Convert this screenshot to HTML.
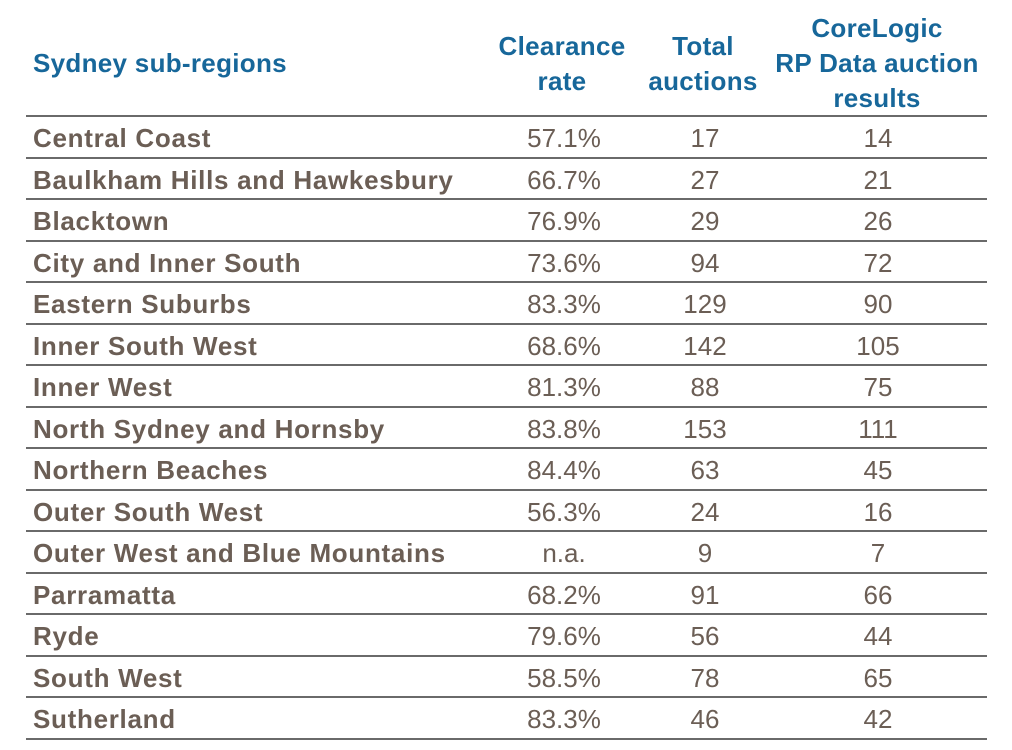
<!DOCTYPE html>
<html><head><meta charset="utf-8"><style>
body{margin:0;width:1012px;height:750px;background:#fff;position:relative;overflow:hidden;font-family:"Liberation Sans",Arial,sans-serif}
.h{position:absolute;color:#17679a;font-weight:bold;font-size:26px;letter-spacing:0.3px;line-height:35px;text-align:center;white-space:nowrap}
.line{position:absolute;left:26px;width:961px;height:2px;background:#6a6a6a}
.c{position:absolute;font-size:26px;color:#6b5e55;line-height:30px;white-space:nowrap}
.n{font-weight:bold;left:33px;letter-spacing:0.7px}
.v{text-align:center;width:160px}
</style></head><body>
<div class="h" style="left:33px;top:46px;text-align:left">Sydney sub-regions</div>
<div class="h" style="left:482px;width:160px;top:29px">Clearance<br>rate</div>
<div class="h" style="left:623px;width:160px;top:29px">Total<br>auctions</div>
<div class="h" style="left:757px;width:240px;top:11px">CoreLogic<br>RP Data auction<br>results</div>
<div id="t"></div>
<script>
const regions=["Central Coast","Baulkham Hills and Hawkesbury","Blacktown","City and Inner South","Eastern Suburbs","Inner South West","Inner West","North Sydney and Hornsby","Northern Beaches","Outer South West","Outer West and Blue Mountains","Parramatta","Ryde","South West","Sutherland"];
const clearance=["57.1%","66.7%","76.9%","73.6%","83.3%","68.6%","81.3%","83.8%","84.4%","56.3%","n.a.","68.2%","79.6%","58.5%","83.3%"];
const totals=["17","27","29","94","129","142","88","153","63","24","9","91","56","78","46"];
const results=["14","21","26","72","90","105","75","111","45","16","7","66","44","65","42"];
const t=document.getElementById('t');
const top0=116,pitch=41.5;
function add(cls,txt,x,y,name){const d=document.createElement('div');d.className=cls;d.textContent=txt;d.style.top=y+'px';if(x!==null)d.style.left=x+'px';


t.appendChild(d);}
for(let i=0;i<=regions.length;i++){const l=document.createElement('div');l.className='line';l.style.top=(top0+i*pitch-1)+'px';


t.appendChild(l);}
regions.forEach((r,i)=>{const y=top0+i*pitch+7;
add('c n',r,null,y,'region-name');
add('c v',clearance[i],484,y,'clearance-rate-value');
add('c v',totals[i],625,y,'total-auctions-value');
add('c v',results[i],798,y,'corelogic-results-value');});
</script>
</body></html>
